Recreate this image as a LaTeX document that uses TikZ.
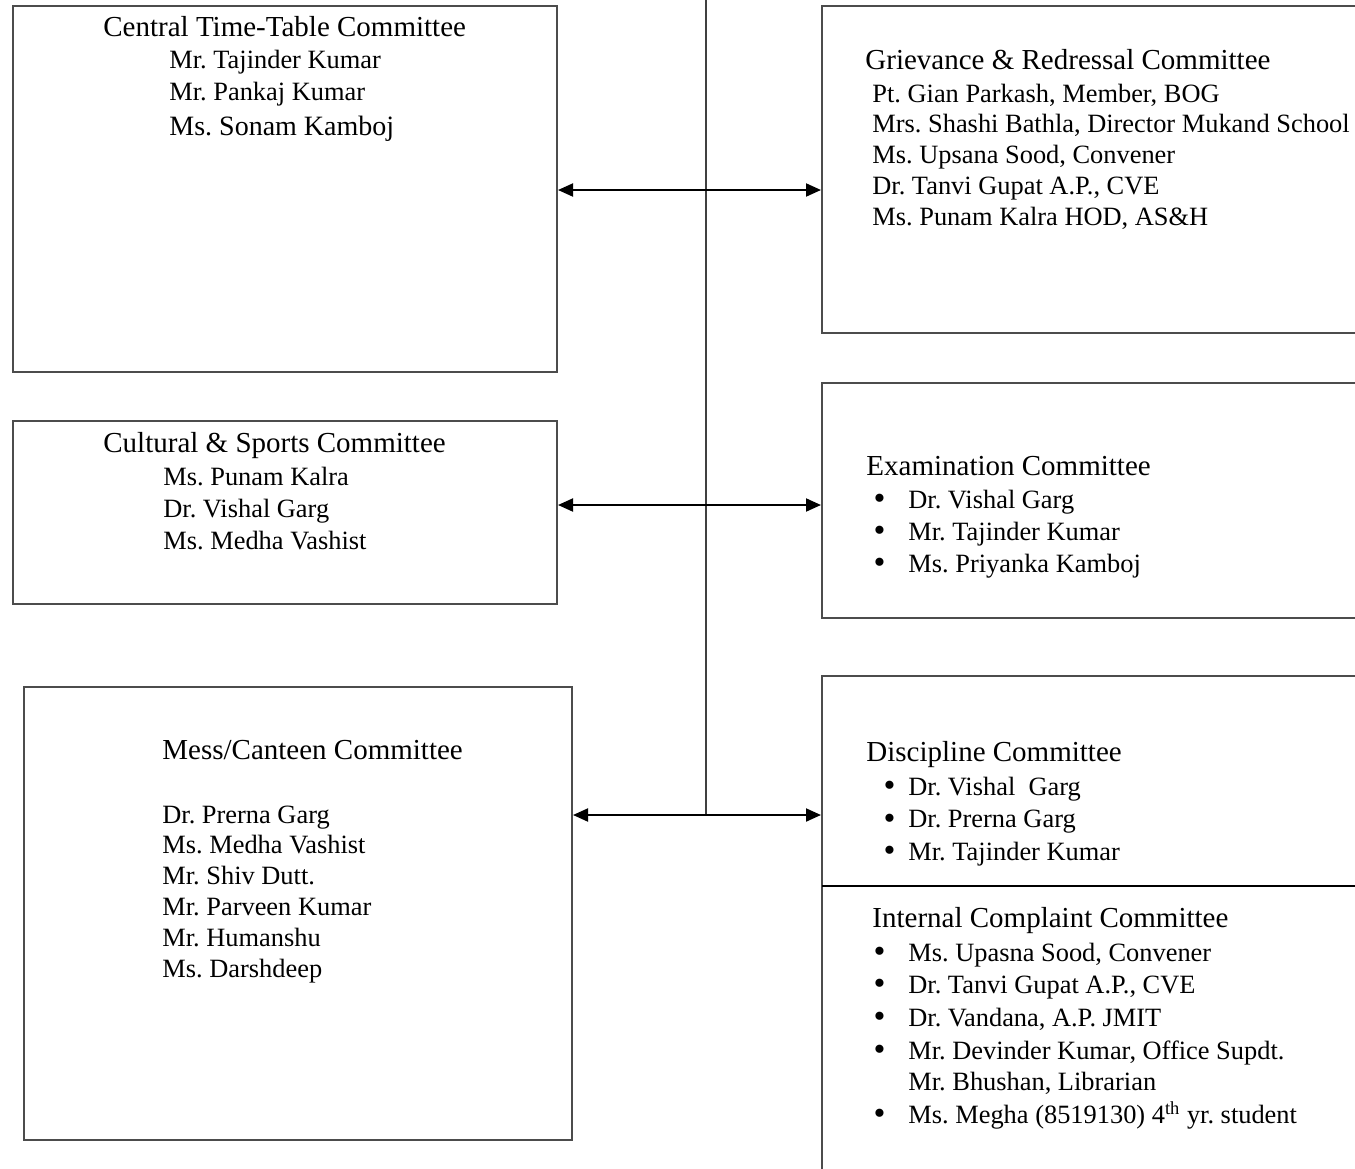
\documentclass[tikz,border=0pt]{standalone}
\usepackage{fontspec}
\setmainfont{Liberation Serif}
\usetikzlibrary{arrows.meta,fit}
\frenchspacing
\newcommand\bigbul{\raisebox{-0.9pt}{\fontsize{17}{17}\selectfont\textbullet}}
\newcommand\bltA{\llap{\bigbul\hspace{11.5pt}}}
\newcommand\bltB{\llap{\bigbul\hspace{6.5pt}}}
\begin{document}
\begin{tikzpicture}[x=0.5pt,y=-0.5pt,
  box/.style={draw=black!70, line width=1pt, inner sep=0pt},
  ttl/.style={font=\fontsize{14.5}{17}\selectfont, anchor=base west, inner sep=0pt},
  mem/.style={font=\fontsize{13.2}{15.5}\selectfont, anchor=base west, inner sep=0pt},
  trunk/.style={draw=black!75, line width=1pt},
  conn/.style={draw=black, line width=1pt, -{Triangle[length=7.5pt,width=6.5pt]}}]
\useasboundingbox (0,0) rectangle (1355,1168);
\clip (0,0) rectangle (1355,1168);

% boxes
\node[box, fit={(13,6) (557,372)}] (ctt) {};
\node[box, fit={(822,6) (1365,333)}] (grv) {};
\node[box, fit={(13,421) (557,604)}] (cul) {};
\node[box, fit={(822,383) (1365,618)}] (exm) {};
\node[box, fit={(24,687) (572,1140)}] (mess) {};
\node[box, fit={(822,676) (1365,1185)}] (dsc) {};
\coordinate (dv) at (822,886);
\draw[black, line width=1pt] (dv) -- (dv -| dsc.east);

% trunk and connectors
\coordinate (top) at (706,0);
\coordinate (j1) at (706,190);
\coordinate (j2) at (706,505);
\coordinate (j3) at (706,815);
\draw[trunk] (top) -- (j3);
\draw[conn] (j1) -- (ctt.east |- j1);
\draw[conn] (j1) -- (grv.west |- j1);
\draw[conn] (j2) -- (cul.east |- j2);
\draw[conn] (j2) -- (exm.west |- j2);
\draw[conn] (j3) -- (mess.east |- j3);
\draw[conn] (j3) -- (dsc.west |- j3);

% Central Time-Table
\node[ttl] (ctt-t) at (103,36) {Central Time-Table Committee};
\node[mem] (ctt-m1) at (169,68) {Mr. Tajinder Kumar};
\node[mem] (ctt-m2) at (169,100) {Mr. Pankaj Kumar};
\node[mem, font=\fontsize{14}{16}\selectfont] (ctt-m3) at (169,135) {Ms. Sonam Kamboj};

% Grievance
\node[ttl] (grv-t) at (865,69) {Grievance \& Redressal Committee};
\foreach \t [count=\i] in {{Pt. Gian Parkash, Member, BOG},{Mrs. Shashi Bathla, Director Mukand School},{Ms. Upsana Sood, Convener},{Dr. Tanvi Gupat A.P., CVE},{Ms. Punam Kalra HOD, AS\&H}}
  \node[mem] (grv-m\i) at (872,{102+30.8*(\i-1)}) {\t};

% Cultural
\node[ttl] (cul-t) at (103,452) {Cultural \& Sports Committee};
\foreach \t [count=\i] in {{Ms. Punam Kalra},{Dr. Vishal Garg},{Ms. Medha Vashist}}
  \node[mem] (cul-m\i) at (163,{485+32*(\i-1)}) {\t};

% Examination
\node[ttl] (exm-t) at (866,475) {Examination Committee};
\foreach \t [count=\i] in {{Dr. Vishal Garg},{Mr. Tajinder Kumar},{Ms. Priyanka Kamboj}}
  \node[mem] (exm-m\i) at (908,{508+32*(\i-1)}) {\bltA\t};

% Mess
\node[ttl] (mess-t) at (162,759) {Mess/Canteen Committee};
\foreach \t [count=\i] in {{Dr. Prerna Garg},{Ms. Medha Vashist},{Mr. Shiv Dutt.},{Mr. Parveen Kumar},{Mr. Humanshu},{Ms. Darshdeep}}
  \node[mem] (mess-m\i) at (162,{823+30.8*(\i-1)}) {\t};

% Discipline
\node[ttl] (dsc-t) at (866,761) {Discipline Committee};
\foreach \t [count=\i] in {{Dr. Vishal\ \ Garg},{Dr. Prerna Garg},{Mr. Tajinder Kumar}}
  \node[mem] (dsc-m\i) at (908,{795+32.5*(\i-1)}) {\bltB\t};

% Internal Complaint
\node[ttl] (icc-t) at (872,927) {Internal Complaint Committee};
\node[mem] (icc-m1) at (908,961) {\bltA Ms. Upasna Sood, Convener};
\node[mem] (icc-m2) at (908,993) {\bltA Dr. Tanvi Gupat A.P., CVE};
\node[mem] (icc-m3) at (908,1026) {\bltA Dr. Vandana, A.P. JMIT};
\node[mem] (icc-m4) at (908,1059) {\bltA Mr. Devinder Kumar, Office Supdt.};
\node[mem] (icc-m5) at (908,1090) {Mr. Bhushan, Librarian};
\node[mem] (icc-m6) at (908,1123) {\bltA Ms. Megha (8519130) 4\textsuperscript{th} yr. student};
\end{tikzpicture}
\end{document}
